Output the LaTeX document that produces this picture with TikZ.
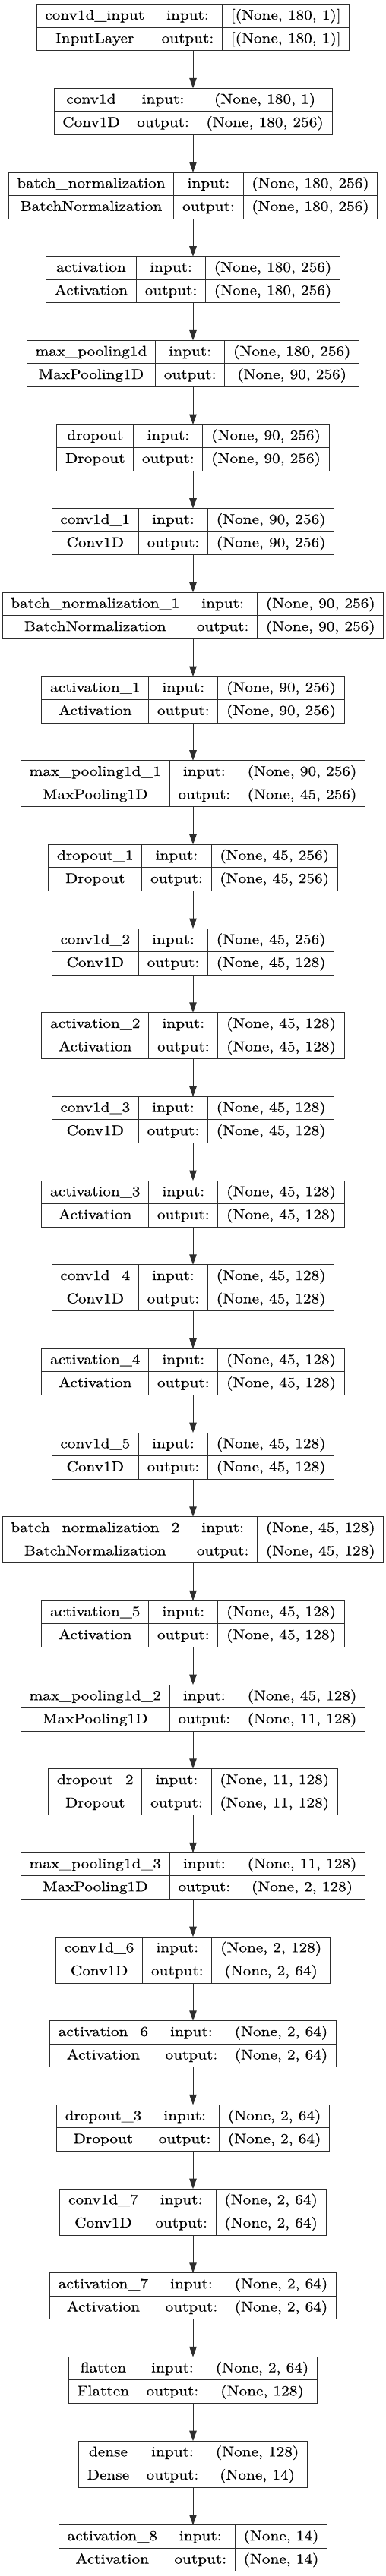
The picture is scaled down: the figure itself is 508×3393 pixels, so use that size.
\documentclass[tikz,border=0pt]{standalone}
\usepackage{fontspec}
\newfontfamily\cellfont{lmroman10-regular}[Extension=.otf, FakeStretch=1.145, FakeBold=0.4]
\usetikzlibrary{arrows.meta}
\definecolor{edge}{RGB}{45,45,45}
\newcommand\cf{\cellfont\fontsize{18.6pt}{22pt}\selectfont}
\newdimen\wA \newdimen\wB \newdimen\wC
\newsavebox\measbox
\def\cpad{22.5}
\newcommand\measure[2]{\sbox\measbox{\cf #2}#1=\wd\measbox}
\tikzset{
  cell/.style={draw=edge, line width=1pt, minimum height=30.5pt, inner sep=0pt,
    outer sep=0pt, anchor=north west, font=\cf, text height=13.6pt, text depth=3.6pt},
  boxarea/.style={inner sep=0pt, outer sep=0pt, minimum height=61pt},
  arr/.style={draw=edge, line width=1pt, -{Triangle[length=13.5pt,width=9.5pt]}}
}
\makeatletter
% #1 index (0-based), #2 name, #3 class, #4 input shape, #5 output shape
\newcommand\prep[5]{%
  \measure\wA{#2}\measure\wB{#3}%
  \ifdim\wB>\wA \wA=\wB\fi
  \measure\wB{#4}\measure\wC{#5}%
  \ifdim\wC>\wB \wB=\wC\fi
  \measure\wC{output:}%
  \pgfmathsetmacro\cA{\the\wA+\cpad}%
  \pgfmathsetmacro\cB{\the\wC+\cpad}%
  \pgfmathsetmacro\cC{\the\wB+\cpad}%
  \pgfmathsetmacro\xl{254-(\cA+\cB+\cC)/2}%
  \pgfmathsetmacro\yt{-5.7-#1*110.67}%
  \pgfmathsetmacro\tw{\cA+\cB+\cC}%
  \pgfmathtruncatemacro\k{#1+1}%
  \expandafter\xdef\csname ca@\k\endcsname{\cA}%
  \expandafter\xdef\csname cb@\k\endcsname{\cB}%
  \expandafter\xdef\csname cc@\k\endcsname{\cC}%
  \expandafter\xdef\csname xl@\k\endcsname{\xl}%
  \expandafter\xdef\csname yt@\k\endcsname{\yt}%
  \expandafter\xdef\csname tw@\k\endcsname{\tw}%
  \expandafter\gdef\csname nm@\k\endcsname{#2}%
  \expandafter\gdef\csname cl@\k\endcsname{#3}%
  \expandafter\gdef\csname in@\k\endcsname{#4}%
  \expandafter\gdef\csname ou@\k\endcsname{#5}%
}
\newcommand\drawlayer[1]{%
  \edef\id{L#1}%
  \edef\cA{\csname ca@#1\endcsname}\edef\cB{\csname cb@#1\endcsname}%
  \edef\cC{\csname cc@#1\endcsname}\edef\xl{\csname xl@#1\endcsname}%
  \edef\yt{\csname yt@#1\endcsname}\edef\tw{\csname tw@#1\endcsname}%
  \node[cell, minimum width=\cA pt] (\id-n) at (\xl pt,\yt pt) {\csname nm@#1\endcsname};
  \node[cell, minimum width=\cB pt] (\id-i) at (\id-n.north east) {input:};
  \node[cell, minimum width=\cC pt] (\id-s) at (\id-i.north east) {\csname in@#1\endcsname};
  \node[cell, minimum width=\cA pt] (\id-c) at (\id-n.south west) {\csname cl@#1\endcsname};
  \node[cell, minimum width=\cB pt] (\id-o) at (\id-c.north east) {output:};
  \node[cell, minimum width=\cC pt] (\id-t) at (\id-o.north east) {\csname ou@#1\endcsname};
  \node[boxarea, minimum width=\tw pt, anchor=north] (\id) at (254pt,\yt pt) {};
}
\makeatother
\begin{document}
\prep{0}{conv1d\_input}{InputLayer}{[(None, 180, 1)]}{[(None, 180, 1)]}%
\prep{1}{conv1d}{Conv1D}{(None, 180, 1)}{(None, 180, 256)}%
\prep{2}{batch\_normalization}{BatchNormalization}{(None, 180, 256)}{(None, 180, 256)}%
\prep{3}{activation}{Activation}{(None, 180, 256)}{(None, 180, 256)}%
\prep{4}{max\_pooling1d}{MaxPooling1D}{(None, 180, 256)}{(None, 90, 256)}%
\prep{5}{dropout}{Dropout}{(None, 90, 256)}{(None, 90, 256)}%
\prep{6}{conv1d\_1}{Conv1D}{(None, 90, 256)}{(None, 90, 256)}%
\prep{7}{batch\_normalization\_1}{BatchNormalization}{(None, 90, 256)}{(None, 90, 256)}%
\prep{8}{activation\_1}{Activation}{(None, 90, 256)}{(None, 90, 256)}%
\prep{9}{max\_pooling1d\_1}{MaxPooling1D}{(None, 90, 256)}{(None, 45, 256)}%
\prep{10}{dropout\_1}{Dropout}{(None, 45, 256)}{(None, 45, 256)}%
\prep{11}{conv1d\_2}{Conv1D}{(None, 45, 256)}{(None, 45, 128)}%
\prep{12}{activation\_2}{Activation}{(None, 45, 128)}{(None, 45, 128)}%
\prep{13}{conv1d\_3}{Conv1D}{(None, 45, 128)}{(None, 45, 128)}%
\prep{14}{activation\_3}{Activation}{(None, 45, 128)}{(None, 45, 128)}%
\prep{15}{conv1d\_4}{Conv1D}{(None, 45, 128)}{(None, 45, 128)}%
\prep{16}{activation\_4}{Activation}{(None, 45, 128)}{(None, 45, 128)}%
\prep{17}{conv1d\_5}{Conv1D}{(None, 45, 128)}{(None, 45, 128)}%
\prep{18}{batch\_normalization\_2}{BatchNormalization}{(None, 45, 128)}{(None, 45, 128)}%
\prep{19}{activation\_5}{Activation}{(None, 45, 128)}{(None, 45, 128)}%
\prep{20}{max\_pooling1d\_2}{MaxPooling1D}{(None, 45, 128)}{(None, 11, 128)}%
\prep{21}{dropout\_2}{Dropout}{(None, 11, 128)}{(None, 11, 128)}%
\prep{22}{max\_pooling1d\_3}{MaxPooling1D}{(None, 11, 128)}{(None, 2, 128)}%
\prep{23}{conv1d\_6}{Conv1D}{(None, 2, 128)}{(None, 2, 64)}%
\prep{24}{activation\_6}{Activation}{(None, 2, 64)}{(None, 2, 64)}%
\prep{25}{dropout\_3}{Dropout}{(None, 2, 64)}{(None, 2, 64)}%
\prep{26}{conv1d\_7}{Conv1D}{(None, 2, 64)}{(None, 2, 64)}%
\prep{27}{activation\_7}{Activation}{(None, 2, 64)}{(None, 2, 64)}%
\prep{28}{flatten}{Flatten}{(None, 2, 64)}{(None, 128)}%
\prep{29}{dense}{Dense}{(None, 128)}{(None, 14)}%
\prep{30}{activation\_8}{Activation}{(None, 14)}{(None, 14)}%
\begin{tikzpicture}
\useasboundingbox (0,0) rectangle (508pt,-3393pt);
\foreach \k in {1,...,31} {\drawlayer{\k}}
\foreach \i [evaluate=\i as \j using int(\i+1)] in {1,...,30}
  \draw[arr] (L\i.south) -- (L\j.north);
\end{tikzpicture}
\end{document}
